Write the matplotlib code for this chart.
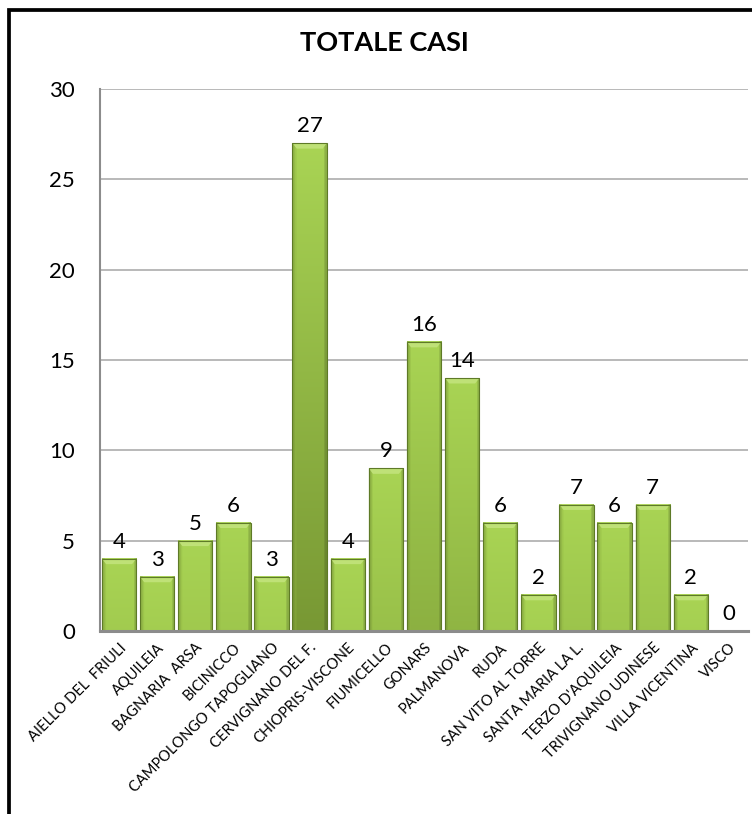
import numpy as np
import matplotlib
matplotlib.use("Agg")
import matplotlib.pyplot as plt
from matplotlib.patches import Rectangle, Polygon
from matplotlib.colors import to_rgb

plt.rcParams['font.family'] = ['Lato', 'DejaVu Sans']

title = "TOTALE CASI"
comuni = [
    "AIELLO DEL  FRIULI", "AQUILEIA", "BAGNARIA  ARSA", "BICINICCO",
    "CAMPOLONGO TAPOGLIANO", "CERVIGNANO DEL F.", "CHIOPRIS-VISCONE",
    "FIUMICELLO", "GONARS", "PALMANOVA", "RUDA", "SAN VITO AL TORRE",
    "SANTA MARIA LA L.", "TERZO D'AQUILEIA", "TRIVIGNANO UDINESE",
    "VILLA VICENTINA", "VISCO",
]
casi = [4, 3, 5, 6, 3, 27, 4, 9, 16, 14, 6, 2, 7, 6, 7, 2, 0]
y_ticks = [0, 5, 10, 15, 20, 25, 30]

W, H = 752, 814
fig = plt.figure(figsize=(W / 100, H / 100), dpi=100)
ax = fig.add_axes([100 / W, 1 - 631 / H, 648 / W, (631 - 89) / H])

n = len(casi)
ymax = 30
ax.set_xlim(-0.5, n - 0.5)
ax.set_ylim(0, ymax)

top_col = np.array(to_rgb("#a9d454"))
bot_col = np.array(to_rgb("#789834"))
edge_col = "#5e7a27"
width = 0.9

# bar outlines through the axis scale, shading added on top
bars = ax.bar(range(n), casi, width=width, color="none", edgecolor=edge_col,
              linewidth=0.8, zorder=4)

rows, cols = 128, 40
for i, (b, v) in enumerate(zip(bars, casi)):
    if v <= 0:
        continue
    x0 = b.get_x()
    x1 = x0 + b.get_width()
    # darkening grows with distance below the bar top
    yy = np.linspace(0, v, rows)[:, None]
    frac = np.clip((v - yy) / max(casi), 0, 1)
    img = top_col[None, None, :] + (bot_col - top_col)[None, None, :] * frac[:, :, None]
    img = np.repeat(img, cols, axis=1)
    xs = np.linspace(0, 1, cols)
    side = np.ones(cols)
    side[xs < 0.07] = 0.86
    side[xs > 0.93] = 0.84
    img = img * side[None, :, None]
    ax.imshow(np.clip(img, 0, 1), extent=[x0, x1, 0, v], origin="lower",
              aspect="auto", zorder=3, interpolation="bilinear")
    # bevelled top edge
    dy = min(0.3, v * 0.5)
    dx = 0.12 * (x1 - x0)
    ax.add_patch(Polygon([[x0, v], [x1, v], [x1 - dx, v - dy], [x0 + dx, v - dy]],
                         closed=True, facecolor="#c4e47e", edgecolor="none",
                         alpha=0.85, zorder=3.5))
    ax.add_patch(Polygon([[x0, v], [x0 + dx, v - dy], [x0 + dx, 0], [x0, 0]],
                         closed=True, facecolor="#8fb342", edgecolor="none",
                         alpha=0.35, zorder=3.5))

for i, v in enumerate(casi):
    ax.annotate(str(v), (i, v), xytext=(0, 5), textcoords="offset points",
                ha="center", va="bottom", fontsize=16, color="black", zorder=5)

ax.set_yticks(y_ticks)
ax.set_yticklabels([str(t) for t in y_ticks], fontsize=16)
ax.tick_params(axis="y", length=0, pad=18)
ax.set_xticks(range(n))
ax.set_xticklabels(comuni, rotation=45, ha="right", va="top",
                   rotation_mode="anchor", fontsize=10.5)
ax.tick_params(axis="x", length=0, pad=7)

ax.grid(axis="y", color="#a6a6a6", linewidth=1.1, zorder=0)
ax.set_axisbelow(True)
for s in ("top", "right"):
    ax.spines[s].set_visible(False)
ax.spines["left"].set_color("#8c8c8c")
ax.spines["left"].set_linewidth(1.5)
ax.spines["bottom"].set_color("#8c8c8c")
ax.spines["bottom"].set_linewidth(2.2)
ax.spines["bottom"].set_zorder(6)

fig.text(384 / W, 1 - 43 / H, title, ha="center", va="center",
         fontsize=19.5, fontweight="bold")

# chart frame
fig.add_artist(Rectangle((9 / W, -0.2), 2.0, 1.2 - 10 / H,
                         transform=fig.transFigure, fill=False,
                         edgecolor="black", linewidth=2.7))

fig.savefig("out.png", dpi=100)
